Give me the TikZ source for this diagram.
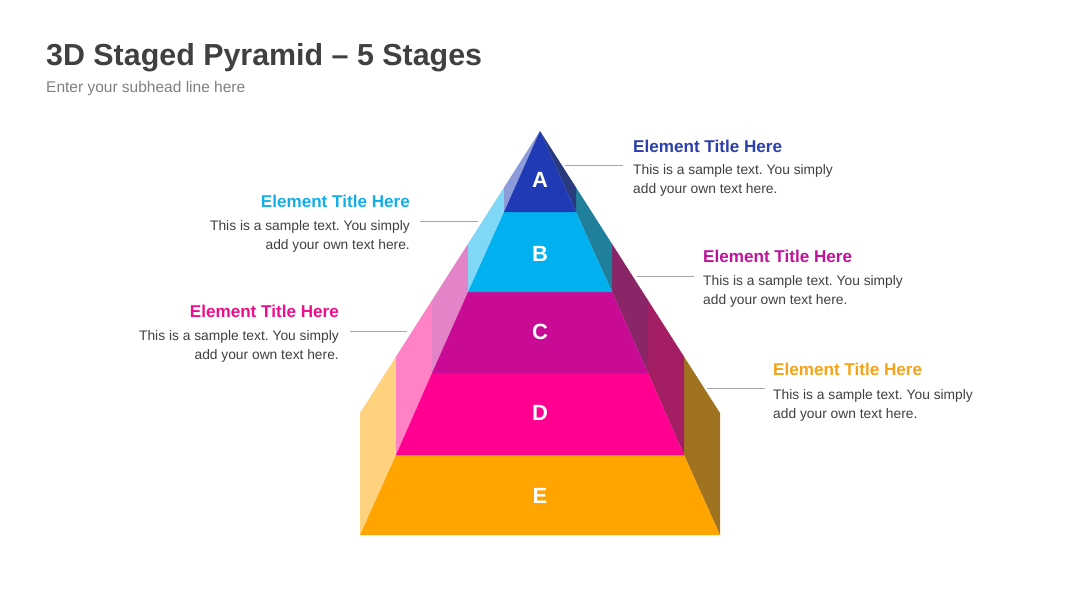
\documentclass[tikz,border=0pt]{standalone}
\usepackage{fontspec}
\setmainfont{Liberation Sans}
\frenchspacing
\definecolor{headc}{HTML}{404040}
\definecolor{subc}{HTML}{808080}
\definecolor{bodyc}{HTML}{404040}
\definecolor{linec}{HTML}{A6A6A6}
\definecolor{aF}{HTML}{1F3AB4}\definecolor{aL}{HTML}{8E9BDB}\definecolor{aR}{HTML}{2A3A7E}
\definecolor{bF}{HTML}{00B0EF}\definecolor{bL}{HTML}{80D7F6}\definecolor{bR}{HTML}{20809C}
\definecolor{cF}{HTML}{C80A94}\definecolor{cL}{HTML}{E384C9}\definecolor{cR}{HTML}{8A2568}
\definecolor{dF}{HTML}{FF0090}\definecolor{dL}{HTML}{FF82C6}\definecolor{dR}{HTML}{A31E62}
\definecolor{eF}{HTML}{FFA400}\definecolor{eL}{HTML}{FFD280}\definecolor{eR}{HTML}{A07321}
\definecolor{tA}{HTML}{2B3FAE}\definecolor{tB}{HTML}{16AEE6}\definecolor{tC}{HTML}{C0129A}
\definecolor{tD}{HTML}{EE0E8C}\definecolor{tE}{HTML}{F5A31A}
\begin{document}
\begin{tikzpicture}[x=1pt,y=-1pt,
  letter/.style={text=white,font=\fontsize{22}{26}\selectfont\bfseries,inner sep=0pt},
  etitle/.style={font=\fontsize{17.1}{20}\selectfont\bfseries,inner sep=0pt},
  ebody/.style={font=\fontsize{13.8}{19}\selectfont,text=bodyc,inner sep=0pt},
  conn/.style={draw=linec,line width=1pt}]
\useasboundingbox[fill=white] (0,0) rectangle (1080,608);
% header
\node[anchor=base west,inner sep=0pt,text=headc,font=\fontsize{30.4}{36}\selectfont\bfseries] (head) at (46,65) {3D Staged Pyramid – 5 Stages};
\node[anchor=base west,inner sep=0pt,text=subc,font=\fontsize{15.5}{18}\selectfont] (sub) at (46,92.5) {Enter your subhead line here};
% pyramid: left side faces
\fill[eL] (360,535) -- (360,413) -- (396,356.6) -- (396,455) -- cycle;
\fill[dL] (396,455) -- (396,356.6) -- (432,300.2) -- (432,373) -- cycle;
\fill[cL] (432,373) -- (432,300.2) -- (468,243.8) -- (468,292) -- cycle;
\fill[bL] (468,292) -- (468,243.8) -- (504,187.4) -- (504,212) -- cycle;
\fill[aL] (504,212) -- (504,187.4) -- (540,131) -- cycle;
% right side faces
\fill[eR] (720,535) -- (720,413) -- (684,356.6) -- (684,455) -- cycle;
\fill[dR] (684,455) -- (684,356.6) -- (648,300.2) -- (648,373) -- cycle;
\fill[cR] (648,373) -- (648,300.2) -- (612,243.8) -- (612,292) -- cycle;
\fill[bR] (612,292) -- (612,243.8) -- (576,187.4) -- (576,212) -- cycle;
\fill[aR] (576,212) -- (576,187.4) -- (540,131) -- cycle;
% front faces
\fill[eF] (360,535) -- (720,535) -- (684,455) -- (396,455) -- cycle;
\fill[dF] (396,455) -- (684,455) -- (648,373) -- (432,373) -- cycle;
\fill[cF] (432,373) -- (648,373) -- (612,292) -- (468,292) -- cycle;
\fill[bF] (468,292) -- (612,292) -- (576,212) -- (504,212) -- cycle;
\fill[aF] (504,212) -- (576,212) -- (540,131) -- cycle;
% letters
\node[letter] (lA) at (540,180) {A};
\node[letter] (lB) at (540,254) {B};
\node[letter] (lC) at (540,332) {C};
\node[letter] (lD) at (540,413) {D};
\node[letter] (lE) at (540,496) {E};
% A (right)
\node[etitle,text=tA,anchor=base west] (tiA) at (633,152.5) {Element Title Here};
\node[ebody,anchor=base west] (bA1) at (633,174.5) {This is a sample text. You simply};
\node[ebody,anchor=base west] (bA2) at (633,193.5) {add your own text here.};
\coordinate (pA) at (565,165.5);
\coordinate (qA) at (623,165.5);
\draw[conn] (pA) -- (qA);
% B (left)
\node[etitle,text=tB,anchor=base east] (tiB) at (410,207.5) {Element Title Here};
\node[ebody,anchor=base east] (bB1) at (410,230.5) {This is a sample text. You simply};
\node[ebody,anchor=base east] (bB2) at (410,249.5) {add your own text here.};
\coordinate (pB) at (478,221);
\coordinate (qB) at (420,221);
\draw[conn] (pB) -- (qB);
% C (right)
\node[etitle,text=tC,anchor=base west] (tiC) at (703,262.5) {Element Title Here};
\node[ebody,anchor=base west] (bC1) at (703,285) {This is a sample text. You simply};
\node[ebody,anchor=base west] (bC2) at (703,304) {add your own text here.};
\coordinate (pC) at (637,276.5);
\coordinate (qC) at (694,276.5);
\draw[conn] (pC) -- (qC);
% D (left)
\node[etitle,text=tD,anchor=base east] (tiD) at (339,317.5) {Element Title Here};
\node[ebody,anchor=base east] (bD1) at (339,340.5) {This is a sample text. You simply};
\node[ebody,anchor=base east] (bD2) at (339,359.5) {add your own text here.};
\coordinate (pD) at (407,331);
\coordinate (qD) at (350,331);
\draw[conn] (pD) -- (qD);
% E (right)
\node[etitle,text=tE,anchor=base west] (tiE) at (773,375.5) {Element Title Here};
\node[ebody,anchor=base west] (bE1) at (773,399) {This is a sample text. You simply};
\node[ebody,anchor=base west] (bE2) at (773,418) {add your own text here.};
\coordinate (pE) at (707,388.5);
\coordinate (qE) at (765,388.5);
\draw[conn] (pE) -- (qE);
\end{tikzpicture}
\end{document}
